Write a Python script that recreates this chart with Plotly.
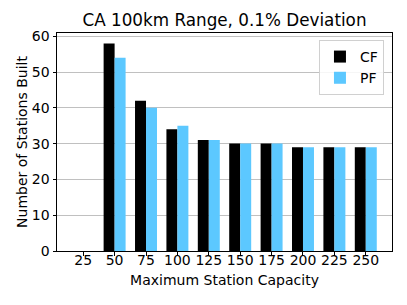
import plotly.graph_objects as go

capacities = ["25", "50", "75", "100", "125", "150", "175", "200", "225", "250"]
cf_values = [0, 58, 42, 34, 31, 30, 30, 29, 29, 29]
pf_values = [0, 54, 40, 35, 31, 30, 30, 29, 29, 29]
y_ticks = [0, 10, 20, 30, 40, 50, 60]

idx = list(range(len(capacities)))
FONT = "DejaVu Sans"

# page body has an 8px margin; figure is sized so the plot area lands where the reference's does
W, H = 391, 289

fig = go.Figure()
fig.add_trace(go.Bar(x=idx, y=cf_values, name="CF", marker=dict(color="black", line=dict(width=0))))
fig.add_trace(go.Bar(x=idx, y=pf_values, name="PF", marker=dict(color="#5cc8ff", line=dict(width=0))))

fig.update_layout(
    width=W, height=H,
    margin=dict(l=49, r=7, t=25, b=46),
    paper_bgcolor="white", plot_bgcolor="white",
    barmode="group", bargap=0.3, bargroupgap=0,
    font=dict(family=FONT, size=14, color="black"),
    title=dict(text="CA 100km Range, 0.1% Deviation", x=0.5, xref="paper",
               y=1 - 12/H, yref="container", yanchor="middle", xanchor="center",
               font=dict(family=FONT, size=16.8, color="black")),
    showlegend=True,
    legend=dict(x=0.976, y=0.968, xanchor="right", yanchor="top",
                bgcolor="rgba(255,255,255,0.85)", bordercolor="#d0d0d0", borderwidth=1,
                font=dict(family=FONT, size=14), itemwidth=30,
                tracegroupgap=2),
    xaxis=dict(range=[-0.835, 9.835], tickmode="array", tickvals=idx, ticktext=capacities,
               showline=True, linecolor="black", linewidth=1, mirror=True,
               ticks="outside", ticklen=3.5, tickcolor="black", showgrid=False, zeroline=False,
               ticklabelstandoff=-7,
               title=dict(text="Maximum Station Capacity", standoff=7, font=dict(size=14))),
    yaxis=dict(range=[0, 60.9], tickmode="array", tickvals=y_ticks,
               showline=True, linecolor="black", linewidth=1, mirror=True,
               ticks="outside", ticklen=3.5, tickcolor="black",
               showgrid=True, gridcolor="rgba(176,176,176,0.8)", gridwidth=1, zeroline=False,
               layer="above traces",
               title=dict(text="Number of Stations Built", standoff=0, font=dict(size=14))),
)

fig.write_html("out.html")
